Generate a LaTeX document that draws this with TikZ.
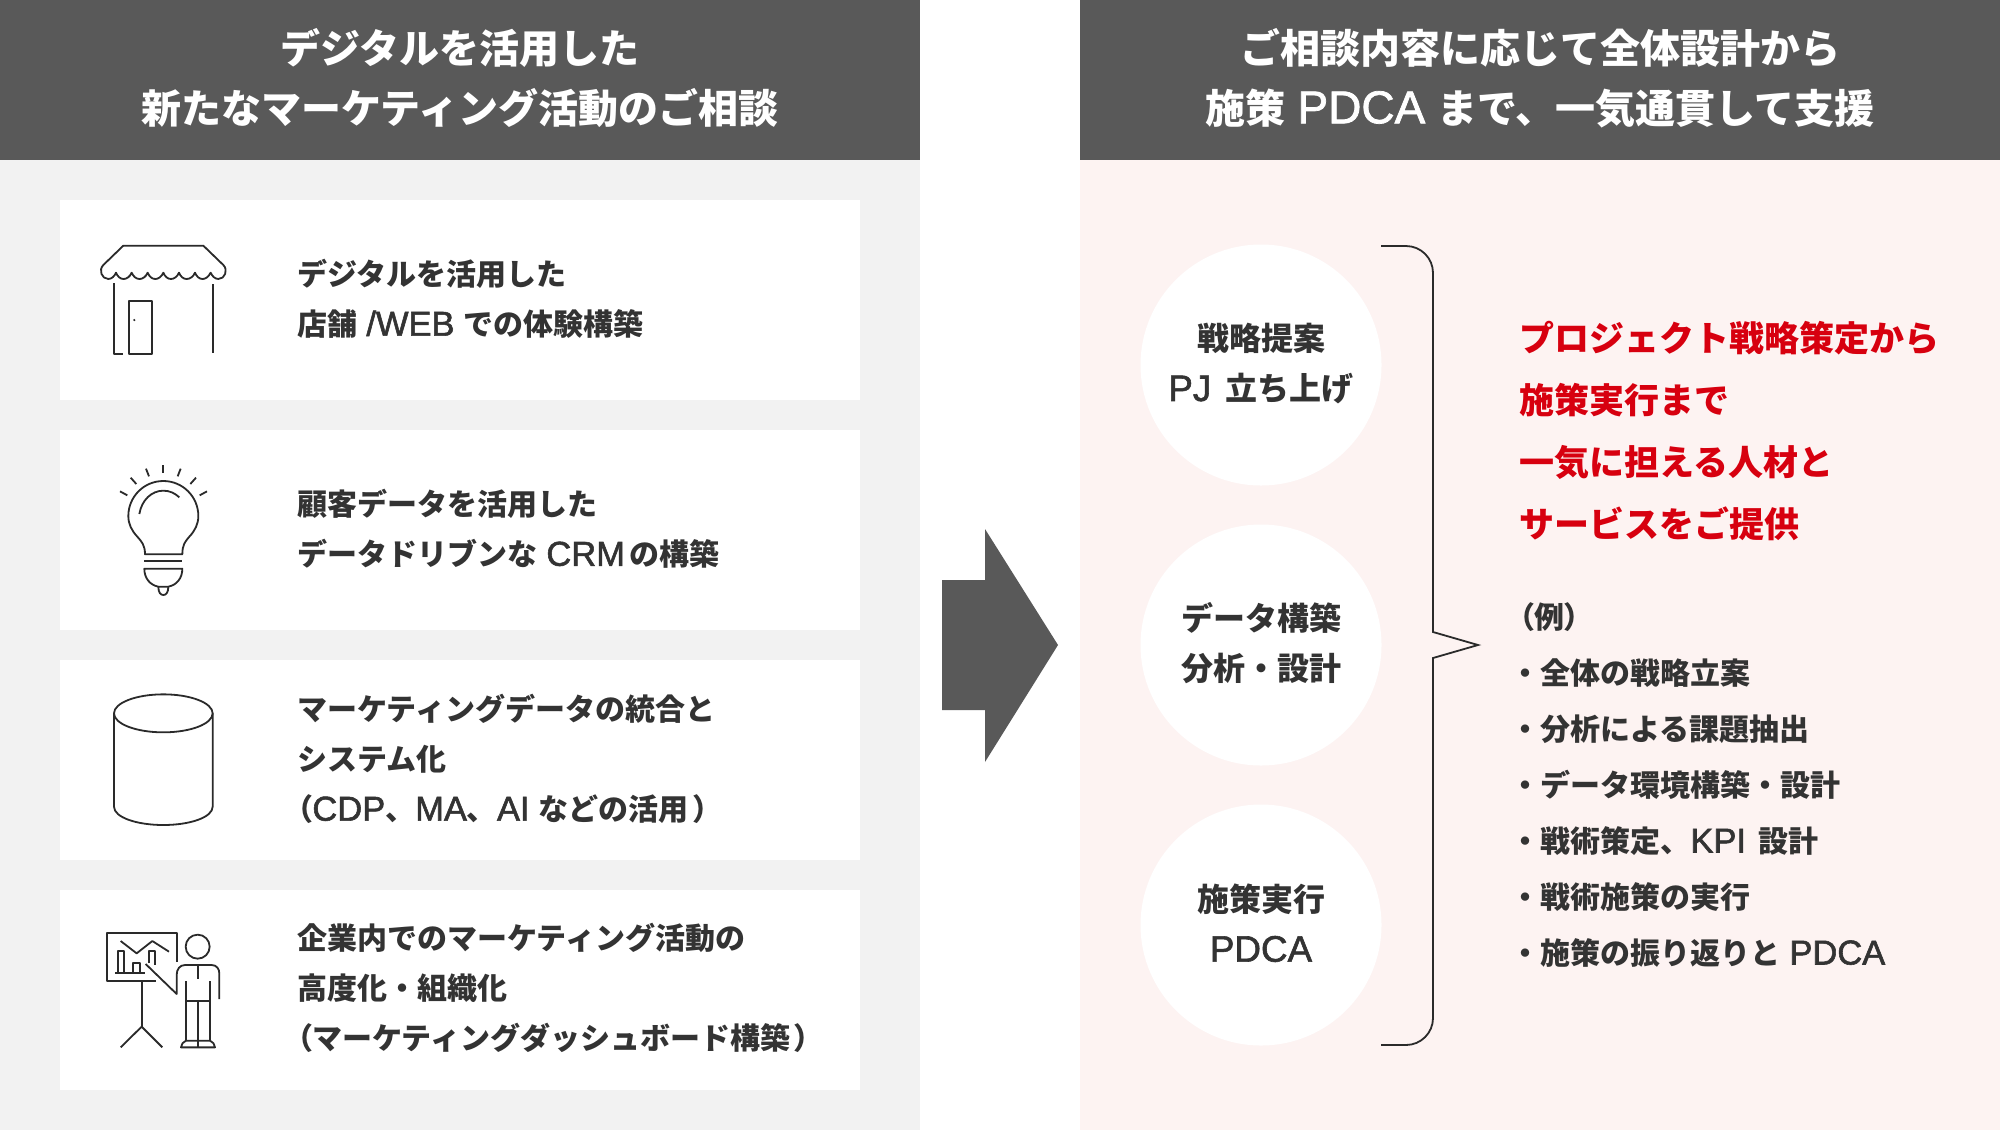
\documentclass[tikz,border=0pt]{standalone}
\usepackage{fontspec}
\setmainfont{Noto Sans CJK JP}
\newfontfamily\la{Liberation Sans}[Scale=1.15,FakeBold=1.6,BoldFont={Liberation Sans},BoldFeatures={FakeBold=1.6}]
\newfontfamily\pl{Noto Sans CJK JP}[RawFeature=+palt]
\newcommand{\lsp}{\hspace{0.3em}}
\definecolor{hdr}{HTML}{595959}
\definecolor{graybg}{HTML}{F2F2F2}
\definecolor{pinkbg}{HTML}{FDF3F2}
\definecolor{ink}{HTML}{333333}
\definecolor{iconink}{HTML}{2A2A2A}
\definecolor{redtxt}{HTML}{D7000F}
\tikzset{
 x=0.5pt,y=-0.5pt,
 hdrtext/.style={text=white,align=center,inner sep=0pt,font=\fontsize{20}{30}\selectfont\bfseries},
 cardtext/.style={text=ink,align=left,anchor=west,inner sep=0pt,font=\fontsize{15}{25}\selectfont\bfseries},
 circtext/.style={text=ink,align=center,inner sep=0pt,font=\fontsize{16}{25}\selectfont\bfseries},
 redblock/.style={text=redtxt,align=left,anchor=west,inner sep=0pt,font=\fontsize{17.5}{31.1}\selectfont\bfseries},
 listblock/.style={text=ink,align=left,anchor=west,inner sep=0pt,font=\fontsize{15}{28}\selectfont\bfseries},
 icon/.style={draw=iconink,line width=0.9pt,line cap=butt,line join=round},
 zoomed/.style={shift={#1},scale=1/3},
 bubble/.style={circle,fill=white,draw=none,minimum size=120.5pt,inner sep=0pt},
}
\begin{document}
\begin{tikzpicture}
\useasboundingbox (0,0) rectangle (2000,1130);
% panels
\fill[graybg] (0,160) rectangle (920,1130);
\fill[pinkbg] (1080,160) rectangle (2000,1130);
\fill[hdr] (0,0) rectangle (920,160);
\fill[hdr] (1080,0) rectangle (2000,160);
\node[hdrtext] (hl) at (460,78) {デジタルを活用した\\新たなマーケティング活動のご相談};
\node[hdrtext] (hr) at (1540,78) {ご相談内容に応じて全体設計から\\施策\lsp{\la PDCA}\lsp まで、一気通貫して支援};
% cards
\fill[white] (60,200) rectangle (860,400);
\fill[white] (60,430) rectangle (860,630);
\fill[white] (60,660) rectangle (860,860);
\fill[white] (60,890) rectangle (860,1090);
\node[cardtext] (c1) at (297,299) {デジタルを活用した\\店舗\lsp{\la /WEB}\lsp での体験構築};
\node[cardtext] (c2) at (297,529) {顧客データを活用した\\データドリブンな\lsp{\la CRM}\hspace{0.15em}の構築};
\node[cardtext] (c3) at (297,759) {マーケティングデータの統合と\\システム化\\{\pl （}{\la CDP}、{\la MA}、{\la AI}\lsp などの活用\hspace{2.5pt}{\pl ）}};
\node[cardtext] (c4) at (297,988) {企業内でのマーケティング活動の\\高度化・組織化\\{\pl （}マーケティングダッシュボード構築\hspace{2.5pt}{\pl ）}};
% store icon
\begin{scope}[zoomed={(80,220)}]
\draw[icon] (130,77) -- (370,77) -- (430,135) .. controls (445,150) and (435,177) .. (415,177)
 .. controls (405,177) and (396,168) .. (392,158)
 .. controls (385,172) and (375,177) .. (368,177) .. controls (358,177) and (350,170) .. (345,158)
 .. controls (340,170) and (330,177) .. (320,177) .. controls (310,177) and (302,170) .. (297,158)
 .. controls (292,170) and (282,177) .. (273,177) .. controls (263,177) and (255,170) .. (250,158)
 .. controls (245,170) and (235,177) .. (226,177) .. controls (216,177) and (208,170) .. (203,158)
 .. controls (198,170) and (188,177) .. (179,177) .. controls (169,177) and (160,170) .. (155,158)
 .. controls (150,170) and (140,177) .. (131,177) .. controls (121,177) and (113,170) .. (108,158)
 .. controls (104,168) and (95,177) .. (85,177) .. controls (65,177) and (55,150) .. (70,135) -- cycle;
\draw[icon] (102,190) -- (102,402) -- (128,402);
\draw[icon] (146,243) rectangle (215,402);
\fill[iconink] (163,300) circle[radius=3.5];
\draw[icon] (398,193) -- (398,398);
\end{scope}
% bulb icon
\begin{scope}[zoomed={(90,450)}]
\draw[icon] (220,45) -- (220,70);
\draw[icon] (168,56) -- (177,79);
\draw[icon] (122,83) -- (139,102);
\draw[icon] (90,124) -- (112,136);
\draw[icon] (272,56) -- (263,79);
\draw[icon] (318,83) -- (301,102);
\draw[icon] (351,124) -- (329,136);
\draw[icon] (165,313) -- (277,313) .. controls (277,285) and (285,275) .. (298,260)
 .. controls (315,242) and (325,222) .. (325,198)
 .. controls (325,140) and (278,93) .. (220,93)
 .. controls (162,93) and (115,140) .. (115,198)
 .. controls (115,222) and (125,242) .. (142,260)
 .. controls (155,275) and (165,285) .. (165,313) -- cycle;
\draw[icon] (148,192) .. controls (155,150) and (185,122) .. (220,122) .. controls (240,122) and (255,130) .. (268,142);
\draw[icon] (163,334) -- (277,334);
\draw[icon] (163,356) -- (277,356) .. controls (277,385) and (260,405) .. (235,410) -- (205,410) .. controls (180,405) and (163,385) .. (163,356) -- cycle;
\draw[icon] (205,410) .. controls (205,428) and (212,435) .. (220,435) .. controls (228,435) and (235,428) .. (235,410);
\end{scope}
% cylinder icon
\begin{scope}[zoomed={(90,680)}]
\draw[icon] (220,100) ellipse[x radius=148,y radius=57];
\draw[icon] (72,100) -- (72,380) .. controls (72,412) and (140,435) .. (220,435) .. controls (300,435) and (368,412) .. (368,380) -- (368,100);
\end{scope}
% presenter icon
\begin{scope}[zoomed={(90,920)}]
\draw[icon] (260,125) -- (260,38) -- (50,38) -- (50,184) -- (197,184);
\draw[icon] (155,184) -- (155,320);
\draw[icon] (92,382) -- (155,320) -- (217,382);
\draw[icon] (92,63) -- (140,100) -- (187,63) -- (237,95);
\draw[icon] (85,157) -- (85,92) -- (102,92) -- (102,157);
\draw[icon] (130,157) -- (130,128) -- (150,128) -- (150,157);
\draw[icon] (178,130) -- (178,92) -- (196,92) -- (196,135);
\draw[icon] (75,158) -- (165,158);
\draw[icon] (167,132) -- (260,222) -- (260,165) .. controls (260,147) and (270,135) .. (285,135) -- (365,135) .. controls (380,135) and (388,147) .. (388,160) -- (388,237);
\draw[icon] (323,80) circle[radius=36];
\draw[icon] (323,135) -- (323,178);
\draw[icon] (288,183) -- (288,362);
\draw[icon] (360,183) -- (360,362);
\draw[icon] (288,243) -- (360,243);
\draw[icon] (323,243) -- (323,382);
\draw[icon] (288,362) -- (360,362) .. controls (368,366) and (375,372) .. (375,382) -- (273,382) .. controls (273,372) and (280,366) .. (288,362);
\end{scope}
% arrow
\fill[hdr] (942,580) -- (985,580) -- (985,529) -- (1058,645) -- (985,762) -- (985,710) -- (942,710) -- cycle;
% circles
\node[bubble] (b1) at (1261,365) {};
\node[bubble] (b2) at (1261,645) {};
\node[bubble] (b3) at (1261,925) {};
\node[circtext] (t1) at (1261,364) {戦略提案\\{\la PJ}\hspace{0.45em}立ち上げ};
\node[circtext] (t2) at (1261,643) {データ構築\\分析・設計};
\node[circtext] (t3) at (1261,923) {施策実行\\{\la PDCA}};
% bracket
\coordinate (bt) at (1381,246);
\coordinate (bb) at (1381,1045);
\coordinate (tip) at (1478,645);
\draw[iconink,line width=0.9pt,line join=miter] (bt) -- (1406,246) arc[start angle=-90,end angle=0,radius=27] -- (1433,632) -- (tip) -- (1433,658) -- (1433,1018) arc[start angle=0,end angle=90,radius=27] -- (bb);
% right text
\node[redblock] (r1) at (1519,431) {プロジェクト戦略策定から\\施策実行まで\\一気に担える人材と\\サービスをご提供};
\node[listblock] (l1) at (1519,785) {{\pl （}例{\pl ）}\\\hspace*{-4.5pt}・全体の戦略立案\\\hspace*{-4.5pt}・分析による課題抽出\\\hspace*{-4.5pt}・データ環境構築・設計\\\hspace*{-4.5pt}・戦術策定、{\la KPI}\hspace{0.42em}設計\\\hspace*{-4.5pt}・戦術施策の実行\\\hspace*{-4.5pt}・施策の振り返りと\lsp{\la PDCA}};
\end{tikzpicture}
\end{document}
